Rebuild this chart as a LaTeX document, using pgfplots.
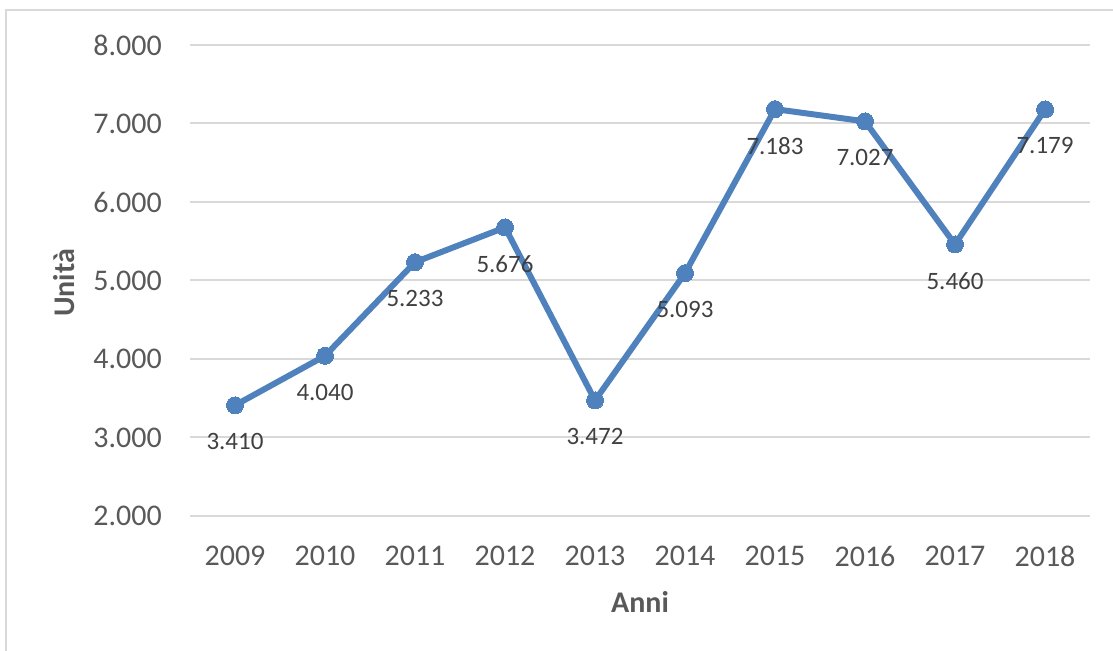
\documentclass[border=0pt]{standalone}
\usepackage{fontspec}
\setmainfont{Carlito}
\usepackage{pgfplots}
\pgfplotsset{compat=1.18}
\definecolor{serie}{RGB}{79,129,189}
\definecolor{griglia}{RGB}{217,217,217}
\definecolor{testo}{RGB}{89,89,89}
\definecolor{etich}{RGB}{64,64,64}

\begin{document}
\begin{tikzpicture}[x=1bp,y=1bp]
\path[use as bounding box] (0,0) rectangle (1113,651);
% cornice grigia (solo lati sinistro e superiore visibili)
\draw[griglia, line width=2bp] (6,0) -- (6,641) -- (1113,641);
\begin{axis}[
  at={(190bp,135bp)}, anchor=south west,
  scale only axis, width=900bp, height=471bp,
  xmin=-0.5, xmax=9.5, ymin=2000, ymax=8000,
  xtick={0,...,9},
  xticklabels={2009,2010,2011,2012,2013,2014,2015,2016,2017,2018},
  ytick={2000,3000,...,8000},
  yticklabels={2.000,3.000,4.000,5.000,6.000,7.000,8.000},
  axis line style={draw=none}, major tick length=0pt,
  ymajorgrids, grid style={griglia, line width=2bp},
  ticklabel style={font=\fontsize{30bp}{36bp}\selectfont, text=testo, inner sep=0pt},
  xticklabel style={anchor=north, yshift=-30bp},
  yticklabel style={anchor=east, xshift=-28bp},
  xlabel={Anni}, ylabel={Unità},
  label style={font=\bfseries\fontsize{30bp}{36bp}\selectfont, text=testo, inner sep=0pt},
  xlabel style={at={(axis description cs:0.5,-0.1826)}, anchor=center},
  ylabel style={at={(axis description cs:-0.14,0.4947)}, anchor=center},
  clip=false,
]
\addplot[serie, line width=6bp, mark=*, mark size=8.5bp,
  mark options={fill=serie, draw=serie, line width=0pt},
  nodes near coords, point meta=explicit symbolic,
  every node near coord/.style={anchor=north, yshift=-28bp, inner sep=0pt,
    text=etich, font=\fontsize{25bp}{30bp}\selectfont}]
  table[meta=etichetta] {
    x  y     etichetta
    0  3410  3.410
    1  4040  4.040
    2  5233  5.233
    3  5676  5.676
    4  3472  3.472
    5  5093  5.093
    6  7183  7.183
    7  7027  7.027
    8  5460  5.460
    9  7179  7.179
  };
\end{axis}
\end{tikzpicture}
\end{document}
